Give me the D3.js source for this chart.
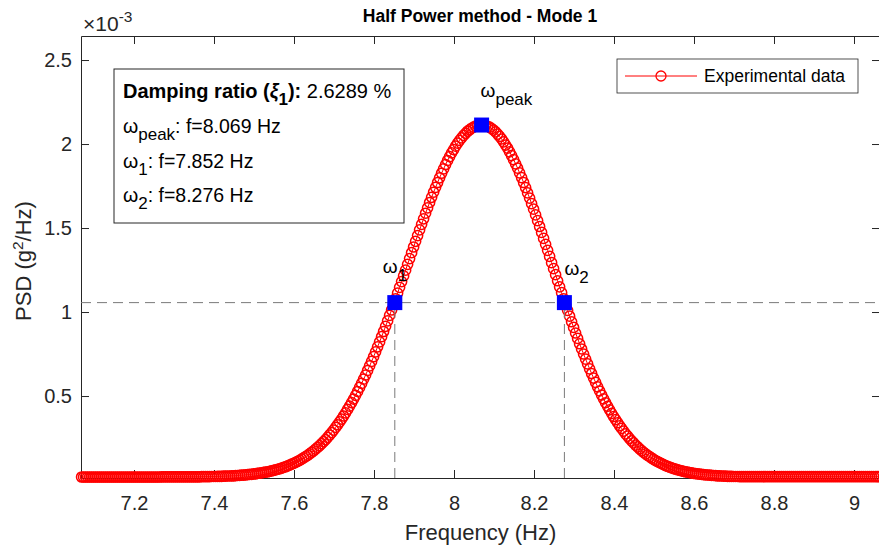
<!DOCTYPE html>
<html><head><meta charset="utf-8">
<script src="https://cdn.jsdelivr.net/npm/d3@7"></script>
<style>body{margin:0;background:#fff} svg{display:block} text{font-family:"Liberation Sans",Arial,Helvetica,sans-serif}</style>
</head><body><svg id="c" width="879" height="548"></svg>
<script>
// ---- data (PSD in units of 1e-3 g^2/Hz, sampled every fStep Hz from fStart) ----
const fStart = 7.069, fStep = 0.005;
const psd = [
0.018,0.018,0.018,0.018,0.018,0.018,0.018,0.018,0.018,0.018,
0.018,0.018,0.018,0.018,0.018,0.018,0.018,0.018,0.018,0.018,
0.018,0.018,0.018,0.018,0.018,0.018,0.018,0.018,0.018,0.018,
0.018,0.018,0.018,0.018,0.018,0.018,0.018,0.018,0.018,0.018,
0.019,0.019,0.019,0.019,0.019,0.019,0.019,0.019,0.019,0.019,
0.019,0.019,0.019,0.019,0.019,0.019,0.019,0.019,0.019,0.019,
0.020,0.020,0.020,0.020,0.020,0.021,0.021,0.021,0.022,0.022,
0.022,0.023,0.023,0.024,0.024,0.025,0.025,0.026,0.027,0.028,
0.029,0.029,0.031,0.032,0.033,0.034,0.036,0.037,0.039,0.041,
0.042,0.045,0.047,0.049,0.052,0.054,0.057,0.060,0.064,0.067,
0.071,0.075,0.079,0.084,0.089,0.094,0.099,0.105,0.111,0.117,
0.124,0.132,0.139,0.147,0.156,0.165,0.174,0.184,0.194,0.205,
0.217,0.229,0.241,0.254,0.268,0.282,0.297,0.313,0.329,0.346,
0.363,0.381,0.400,0.420,0.440,0.461,0.482,0.504,0.527,0.551,
0.575,0.600,0.625,0.652,0.679,0.706,0.734,0.763,0.793,0.822,
0.853,0.884,0.915,0.947,0.980,1.012,1.045,1.079,1.113,1.147,
1.181,1.215,1.249,1.284,1.318,1.353,1.387,1.421,1.455,1.489,
1.522,1.555,1.588,1.620,1.652,1.683,1.713,1.742,1.771,1.799,
1.826,1.852,1.878,1.902,1.925,1.947,1.967,1.987,2.005,2.022,
2.037,2.051,2.064,2.076,2.085,2.094,2.101,2.106,2.110,2.112,
2.113,
2.112,2.110,2.105,2.100,2.092,2.083,2.072,2.059,2.045,2.030,
2.013,1.994,1.975,1.953,1.931,1.907,1.882,1.856,1.828,1.800,
1.771,1.741,1.709,1.678,1.645,1.612,1.578,1.544,1.509,1.474,
1.438,1.403,1.367,1.331,1.294,1.258,1.222,1.186,1.150,1.115,
1.079,1.044,1.010,0.975,0.942,0.908,0.875,0.843,0.811,0.780,
0.750,0.720,0.691,0.662,0.634,0.607,0.581,0.555,0.530,0.506,
0.483,0.460,0.439,0.418,0.397,0.378,0.359,0.341,0.323,0.307,
0.291,0.275,0.261,0.247,0.233,0.221,0.208,0.197,0.186,0.175,
0.165,0.156,0.147,0.139,0.131,0.123,0.116,0.109,0.103,0.097,
0.092,0.086,0.081,0.077,0.072,0.068,0.065,0.061,0.058,0.055,
0.052,0.049,0.047,0.044,0.042,0.040,0.038,0.037,0.035,0.034,
0.032,0.031,0.030,0.029,0.028,0.027,0.026,0.025,0.025,0.024,
0.023,0.023,0.022,0.022,0.022,0.021,0.021,0.021,0.020,0.020,
0.020,0.020,0.020,0.020,0.020,0.020,0.020,0.020,0.020,0.020,
0.020,0.020,0.020,0.020,0.020,0.020,0.020,0.020,0.020,0.020,
0.020,0.020,0.020,0.020,0.020,0.020,0.020,0.020,0.020,0.020,
0.020,0.020,0.020,0.020,0.020,0.020,0.020,0.020,0.020,0.020,
0.020,0.020,0.020,0.020,0.020,0.020,0.020,0.020,0.020,0.020,
0.020,0.020,0.020,0.020,0.020,0.020,0.020,0.020,0.020,0.020,
0.020,0.020,0.020,0.020,0.020,0.020,0.020,0.020,0.020
];
const peakPoint = {f: 8.069, v: 2.113};
const halfPoints = [{f: 7.852, v: 1.056, sub: "1"}, {f: 8.276, v: 1.056, sub: "2"}];
const xTicks = [7.2, 7.4, 7.6, 7.8, 8, 8.2, 8.4, 8.6, 8.8, 9];
const yTicks = [0.5, 1, 1.5, 2, 2.5];
const xDomain = [7.0675, 9.065];
const yDomain = [0.012, 2.643];
const infoLines = [
  {bold: "Damping ratio (", sym: "ξ", sub: "1", boldEnd: "):", rest: " 2.6289 %"},
  {sym: "ω", sub: "peak", rest: ": f=8.069 Hz"},
  {sym: "ω", sub: "1", rest: ": f=7.852 Hz"},
  {sym: "ω", sub: "2", rest: ": f=8.276 Hz"}
];

// ---- layout ----
const m = {l: 81, t: 36, r: 880, b: 478};
const axisColor = "#262626";
const FONT = '"Liberation Sans",Arial,Helvetica,sans-serif';
const svg = d3.select("#c");
const x = d3.scaleLinear().domain(xDomain).range([m.l, m.r]);
const y = d3.scaleLinear().domain(yDomain).range([m.b, m.t]);
const data = psd.map((v, i) => ({f: fStart + i * fStep, v}));

function styleAxis(g, fs) {
  g.attr("font-family", FONT).attr("font-size", fs);
  g.select(".domain").attr("stroke", axisColor).attr("stroke-width", 1);
  g.selectAll(".tick line").attr("stroke", axisColor).attr("stroke-width", 1);
  g.selectAll(".tick text").attr("fill", axisColor);
}
svg.append("rect").attr("x", m.l).attr("y", m.t).attr("width", m.r - m.l).attr("height", m.b - m.t).attr("fill", "#fff");

// axes
svg.append("g").attr("transform", `translate(0,${m.b})`)
  .call(d3.axisBottom(x).tickValues(xTicks).tickSizeInner(-8).tickSizeOuter(0).tickPadding(18).tickFormat(d3.format("")))
  .call(g => styleAxis(g, 20));
svg.append("g").attr("transform", `translate(0,${m.t})`)
  .call(d3.axisTop(x).tickValues(xTicks).tickSizeInner(-8).tickSizeOuter(0).tickFormat(""))
  .call(g => styleAxis(g, 20));
svg.append("g").attr("transform", `translate(${m.l},0)`)
  .call(d3.axisLeft(y).tickValues(yTicks).tickSizeInner(-8).tickSizeOuter(0).tickPadding(9).tickFormat(d3.format("")))
  .call(g => styleAxis(g, 20));
svg.append("g").attr("transform", `translate(${m.r},0)`)
  .call(d3.axisRight(y).tickValues(yTicks).tickSizeInner(-8).tickSizeOuter(0).tickFormat(""))
  .call(g => styleAxis(g, 20));

// exponent
const ex = svg.append("text").attr("x", 83).attr("y", 31).attr("font-size", 21).attr("fill", axisColor);
ex.append("tspan").text("×10");
ex.append("tspan").attr("dy", -9).attr("font-size", 15.5).text("-3");

// title & labels
svg.append("text").attr("x", 480).attr("y", 22).attr("text-anchor", "middle")
  .attr("font-size", 17.5).attr("font-weight", "bold").attr("fill", "#000").text("Half Power method - Mode 1");
svg.append("text").attr("x", (m.l + m.r) / 2).attr("y", 540).attr("text-anchor", "middle")
  .attr("font-size", 22).attr("fill", axisColor).text("Frequency (Hz)");
const yl = svg.append("text").attr("transform", `translate(31,${(m.t + m.b) / 2 + 4}) rotate(-90)`)
  .attr("text-anchor", "middle").attr("font-size", 22).attr("fill", axisColor);
yl.append("tspan").text("PSD (g");
yl.append("tspan").attr("dy", -8).attr("font-size", 15.5).text("2");
yl.append("tspan").attr("dy", 8).text("/Hz)");

// data curve
svg.append("path").datum(data)
  .attr("d", d3.line().x(d => x(d.f)).y(d => y(d.v)))
  .attr("fill", "none").attr("stroke", "#ff0000").attr("stroke-width", 1);
svg.append("g").selectAll("circle").data(data).join("circle")
  .attr("cx", d => x(d.f)).attr("cy", d => y(d.v)).attr("r", 5.1)
  .attr("fill", "none").attr("stroke", "#ff0000").attr("stroke-width", 1.5);

// half-power dashed lines
const dash = {stroke: "#7a7a7a", w: 1, a: "10,6"};
svg.append("line").attr("x1", m.l).attr("x2", m.r).attr("y1", y(halfPoints[0].v)).attr("y2", y(halfPoints[0].v))
  .attr("stroke", dash.stroke).attr("stroke-width", dash.w).attr("stroke-dasharray", dash.a);
svg.append("g").selectAll("line").data(halfPoints).join("line")
  .attr("x1", d => x(d.f)).attr("x2", d => x(d.f)).attr("y1", m.b).attr("y2", d => y(d.v))
  .attr("stroke", dash.stroke).attr("stroke-width", dash.w).attr("stroke-dasharray", dash.a);

// blue square markers
const sq = 15;
svg.append("g").selectAll("rect").data([peakPoint, ...halfPoints]).join("rect")
  .attr("x", d => x(d.f) - sq / 2).attr("y", d => y(d.v) - sq / 2).attr("width", sq).attr("height", sq)
  .attr("fill", "#0000ff");

// omega labels
function omega(xp, yp, sub) {
  const t = svg.append("text").attr("x", xp).attr("y", yp).attr("font-size", 19).attr("fill", "#000");
  t.append("tspan").text("ω");
  t.append("tspan").attr("dy", 8).attr("font-size", 17).text(sub);
}
omega(x(peakPoint.f) - 1, 97, "peak");
omega(x(halfPoints[0].f) - 12, 273, halfPoints[0].sub);
omega(x(halfPoints[1].f), 275, halfPoints[1].sub);

// info box
svg.append("rect").attr("x", 114).attr("y", 69).attr("width", 290).attr("height", 154)
  .attr("fill", "#fff").attr("stroke", axisColor).attr("stroke-width", 1);
const baselines = [98, 133, 168, 202];
infoLines.forEach((L, i) => {
  const t = svg.append("text").attr("x", 123).attr("y", baselines[i]).attr("font-size", 19.5).attr("fill", "#000");
  if (L.bold) t.append("tspan").attr("font-weight", "bold").attr("font-size", 20).text(L.bold);
  t.append("tspan").attr("font-weight", L.bold ? "bold" : "normal").attr("font-style", L.bold ? "italic" : "normal").text(L.sym);
  t.append("tspan").attr("dy", 7).attr("font-size", 17).attr("font-weight", L.bold ? "bold" : "normal").text(L.sub);
  if (L.boldEnd) t.append("tspan").attr("dy", -7).attr("font-weight", "bold").attr("font-size", 20).text(L.boldEnd);
  t.append("tspan").attr("dy", L.boldEnd ? 0 : -7).attr("font-size", L.bold ? 20 : 19.5).text(L.rest);
});

// legend
const lg = svg.append("g");
lg.append("rect").attr("x", 617).attr("y", 59).attr("width", 241).attr("height", 34)
  .attr("fill", "#fff").attr("stroke", axisColor).attr("stroke-width", 0.8);
lg.append("line").attr("x1", 625).attr("x2", 697).attr("y1", 76).attr("y2", 76).attr("stroke", "#ff0000").attr("stroke-width", 1);
lg.append("circle").attr("cx", 661).attr("cy", 76).attr("r", 5).attr("fill", "none").attr("stroke", "#ff0000").attr("stroke-width", 1.3);
lg.append("text").attr("x", 704).attr("y", 76).attr("dy", "0.35em").attr("font-size", 17.5).attr("fill", "#000").text("Experimental data");
</script></body></html>
